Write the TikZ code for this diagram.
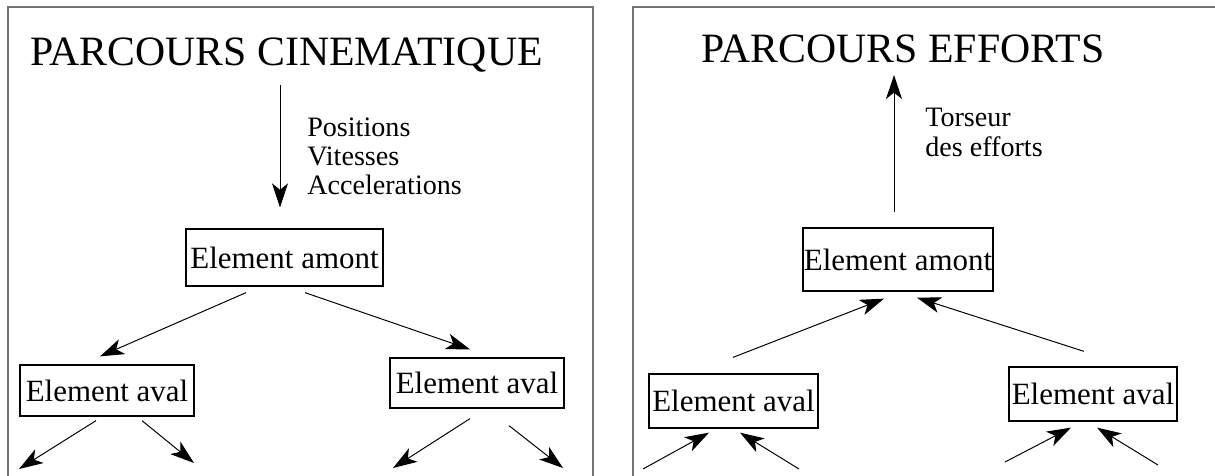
\documentclass[tikz,border=0pt]{standalone}
\usepackage{fontspec}
\setmainfont{Liberation Serif}
\usetikzlibrary{arrows.meta}

\begin{document}
\begin{tikzpicture}[x=0.025cm,y=-0.025cm,
    cadre/.style={black!55,line width=1.4pt},
    boite/.style={draw,line width=0.9pt,inner sep=0pt,font=\fontsize{22}{22}\selectfont},
    titre/.style={anchor=base west,inner sep=0pt,font=\fontsize{29.7}{29.7}\selectfont},
    legende/.style={anchor=north west,inner sep=0pt,align=left,font=\fontsize{20}{20.5}\selectfont},
    fleche/.style={line width=0.7pt,-{Stealth[length=6mm,width=4mm,inset=1.6mm]}}]
  \clip (0,0) rectangle (1215,475);
  % cadres
  \draw[cadre] (8,490) -- (8,7) -- (593,7) -- (593,490);
  \draw[cadre] (633,490) -- (633,7) -- (1230,7);

  % parcours cinematique
  \node[titre] (titreC) at (30,65) {PARCOURS CINEMATIQUE};
  \node[legende] (cinema) at (307,118) {Positions\\Vitesses\\Accelerations};
  \node[boite,minimum width=4.925cm,minimum height=1.425cm] (amontC) at (284.5,257.5) {Element amont};
  \node[boite,minimum width=4.35cm,minimum height=1.275cm] (avalCa) at (107,390.5) {Element aval};
  \node[boite,minimum width=4.35cm,minimum height=1.25cm] (avalCb) at (477,383) {Element aval};
  \coordinate (entreeC) at (280,85);
  \coordinate (sortieCa) at (19,469);
  \coordinate (sortieCb) at (194,463);
  \coordinate (sortieCc) at (393,468);
  \coordinate (sortieCd) at (563,468);
  \draw[fleche] (entreeC) -- ([shift={(-4.5,-21)}]amontC.north);
  \draw[fleche] ([shift={(-38.5,6)}]amontC.south) -- ([shift={(-7,-8)}]avalCa.north);
  \draw[fleche] ([shift={(20.5,6)}]amontC.south) -- ([shift={(-7,-8)}]avalCb.north);
  \draw[fleche] ([shift={(-11,4)}]avalCa.south) -- (sortieCa);
  \draw[fleche] ([shift={(35,4)}]avalCa.south) -- (sortieCb);
  \draw[fleche] ([shift={(-7,10)}]avalCb.south) -- (sortieCc);
  \draw[fleche] ([shift={(32,17)}]avalCb.south) -- (sortieCd);

  % parcours efforts
  \node[titre] (titreE) at (701,62) {PARCOURS EFFORTS};
  \node[legende,font=\fontsize{20}{21.3}\selectfont] (torseur) at (925,108) {Torseur\\des efforts};
  \node[boite,minimum width=4.75cm,minimum height=1.575cm] (amontE) at (898,259.5) {Element amont};
  \node[boite,minimum width=4.225cm,minimum height=1.35cm] (avalEa) at (733.5,401) {Element aval};
  \node[boite,minimum width=4.2cm,minimum height=1.35cm] (avalEb) at (1093,394) {Element aval};
  \coordinate (sortieE) at (894,75);
  \coordinate (entreeEa) at (643,469);
  \coordinate (entreeEb) at (799,469);
  \coordinate (entreeEc) at (1005,462);
  \coordinate (entreeEd) at (1158,465);
  \draw[fleche] ([shift={(-4,-15)}]amontE.north) -- (sortieE);
  \draw[fleche] ([shift={(-0.5,-16)}]avalEa.north) -- ([shift={(-14,7)}]amontE.south);
  \draw[fleche] ([shift={(-9,-15)}]avalEb.north) -- ([shift={(19,6)}]amontE.south);
  \draw[fleche] (entreeEa) -- ([shift={(-24.5,4)}]avalEa.south);
  \draw[fleche] (entreeEb) -- ([shift={(6.5,4)}]avalEa.south);
  \draw[fleche] (entreeEc) -- ([shift={(-22,6)}]avalEb.south);
  \draw[fleche] (entreeEd) -- ([shift={(4,6)}]avalEb.south);
\end{tikzpicture}
\end{document}
